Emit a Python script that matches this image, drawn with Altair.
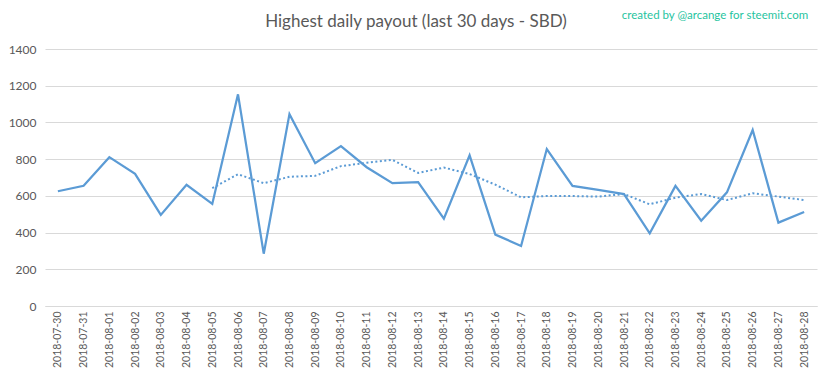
import altair as alt
import pandas as pd

dates = ["2018-07-30", "2018-07-31", "2018-08-01", "2018-08-02", "2018-08-03", "2018-08-04",
         "2018-08-05", "2018-08-06", "2018-08-07", "2018-08-08", "2018-08-09", "2018-08-10",
         "2018-08-11", "2018-08-12", "2018-08-13", "2018-08-14", "2018-08-15", "2018-08-16",
         "2018-08-17", "2018-08-18", "2018-08-19", "2018-08-20", "2018-08-21", "2018-08-22",
         "2018-08-23", "2018-08-24", "2018-08-25", "2018-08-26", "2018-08-27", "2018-08-28"]
payout = [625, 655, 811, 720, 496, 660, 556, 1153, 285, 1045, 778, 871, 756, 669, 675,
          476, 821, 389, 327, 855, 654, 632, 610, 396, 654, 465, 619, 959, 454, 512]
avg7 = [None, None, None, None, None, None, 642, 718, 669, 704, 709, 762, 780, 796, 725,
        754, 719, 661, 592, 599, 599, 596, 610, 554, 590, 610, 577, 614, 596, 577]
y_ticks = [0, 200, 400, 600, 800, 1000, 1200, 1400]

title_text = "Highest daily payout (last 30 days - SBD)"
credit_text = "created by @arcange for steemit.com"

df = pd.DataFrame({"date": dates, "payout": payout, "avg": avg7})

gray = "#595959"
blue = "#5b9bd5"

x = alt.X("date:O", sort=None,
          axis=alt.Axis(title=None, labelAngle=-90, labelFontSize=10.5, labelColor=gray,
                        labelFont="Lato", ticks=False, domainColor="#d9d9d9",
                        labelPadding=5, labelBaseline="middle", labelAlign="right",
                        labelOverlap=False))
y_axis = alt.Axis(title=None, values=y_ticks, format="d", labelOverlap=False,
                  labelFontSize=12, labelColor=gray, labelFont="Lato", ticks=False,
                  domain=False, gridColor="#d9d9d9", labelPadding=9)
y_scale = alt.Scale(domain=[0, 1400], nice=False)

base = alt.Chart(df)
line = base.mark_line(color=blue, strokeWidth=2.25).encode(
    x=x, y=alt.Y("payout:Q", scale=y_scale, axis=y_axis))
avg_line = base.transform_filter("datum.avg != null").mark_line(
    color=blue, strokeWidth=2, strokeDash=[2, 2.5]).encode(
    x=x, y=alt.Y("avg:Q", scale=y_scale, axis=y_axis))

title = alt.Chart(pd.DataFrame({"t": [title_text]})).mark_text(
    font="Lato", fontSize=17, color=gray, align="center", baseline="middle").encode(
    text="t:N", x=alt.value(371), y=alt.value(-27))
credit = alt.Chart(pd.DataFrame({"t": [credit_text]})).mark_text(
    font="Lato", fontSize=11.5, color="#1fc4a0", align="center", baseline="middle").encode(
    text="t:N", x=alt.value(670), y=alt.value(-33))

chart = alt.layer(line, avg_line, title, credit).properties(
    width=772, height=257,
    autosize=alt.AutoSizeParams(type="none"),
    padding={"left": 37, "top": 41, "right": 8, "bottom": 65},
).configure_view(stroke=None)

chart.save("out.html", embed_options={"renderer": "svg", "actions": False})
